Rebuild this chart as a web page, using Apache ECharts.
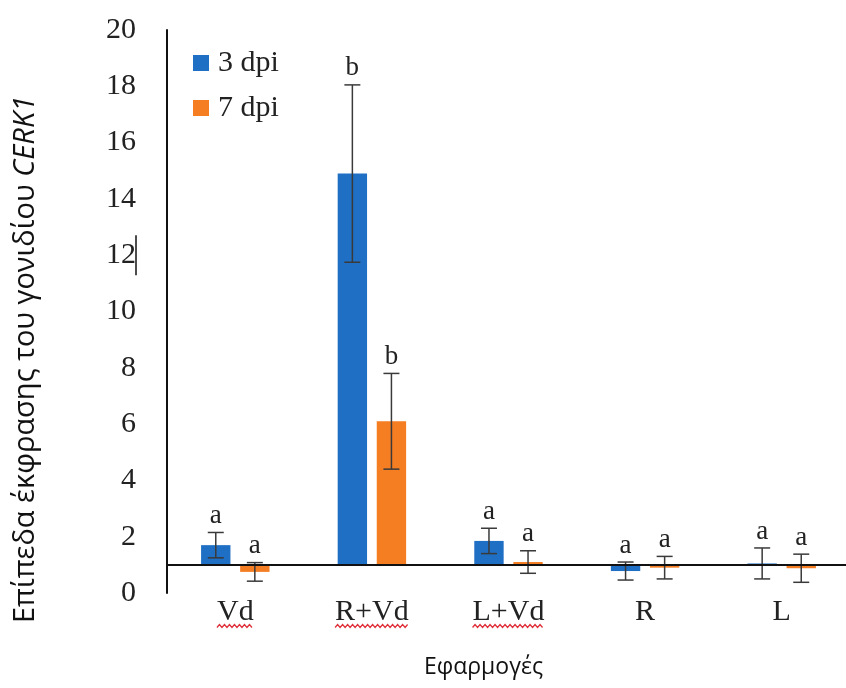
<!DOCTYPE html>
<html>
<head>
<meta charset="utf-8">
<script src="https://cdn.jsdelivr.net/npm/echarts@6/dist/echarts.min.js"></script>
<style>
  html, body { margin: 0; padding: 0; background: #fff; }
  #chart { width: 846px; height: 688px; }
</style>
</head>
<body>
<div id="chart"></div>
<script>
// categories and values (relative expression, baseline 1)
var categories = ['Vd', 'R+Vd', 'L+Vd', 'R', 'L'];
var dpi3 = [1.7, 14.9, 1.85, 0.78, 1.05];
var err3 = [0.45, 3.15, 0.45, 0.32, 0.55];
var dpi7 = [0.75, 6.1, 1.1, 0.9, 0.88];
var err7 = [0.33, 1.7, 0.4, 0.4, 0.5];
var letters3 = ['a', 'b', 'a', 'a', 'a'];
var letters7 = ['a', 'b', 'a', 'a', 'a'];
// labels underlined by the spell checker in the original
var squiggled = ['Vd', 'R+Vd', 'L+Vd'];

var BASE = 1; // horizontal axis crosses at 1
var serif = '"Liberation Serif", "DejaVu Serif", serif';
var sans = '"Open Sans", "Noto Sans", sans-serif';
var catFont = 30;

function makeRender(offsetFrac, letters) {
    return function (params, api) {
        var i = api.value(0);
        var v = api.value(1);
        var e = api.value(2);
        var band = api.size([1, 0])[0];
        var off = offsetFrac * band;
        var barW = 0.215 * band;
        var base = api.coord([i, BASE]);
        var top = api.coord([i, v]);
        var hi = api.coord([i, v + e]);
        var lo = api.coord([i, v - e]);
        var cx = base[0] + off;
        var capW = 16;
        var y0 = Math.min(base[1], top[1]);
        var h = Math.max(Math.abs(base[1] - top[1]), 1);
        return {
            type: 'group',
            children: [
                {
                    type: 'rect',
                    shape: { x: cx - barW / 2, y: y0, width: barW, height: h },
                    style: { fill: api.visual('color') }
                },
                {
                    type: 'line',
                    shape: { x1: cx, y1: hi[1], x2: cx, y2: lo[1] },
                    style: { stroke: '#3a3a3a', lineWidth: 1.5 }
                },
                {
                    type: 'line',
                    shape: { x1: cx - capW / 2, y1: hi[1], x2: cx + capW / 2, y2: hi[1] },
                    style: { stroke: '#3a3a3a', lineWidth: 1.5 }
                },
                {
                    type: 'line',
                    shape: { x1: cx - capW / 2, y1: lo[1], x2: cx + capW / 2, y2: lo[1] },
                    style: { stroke: '#3a3a3a', lineWidth: 1.5 }
                },
                {
                    type: 'text',
                    style: {
                        x: cx, y: hi[1] - 3,
                        text: letters[params.dataIndex],
                        fill: '#222',
                        font: '27px ' + serif,
                        align: 'center',
                        verticalAlign: 'bottom'
                    }
                }
            ]
        };
    };
}

function pack(vals, errs) {
    var out = [];
    for (var i = 0; i < vals.length; i++) {
        out.push([i, vals[i], errs[i]]);
    }
    return out;
}

var chart = echarts.init(document.getElementById('chart'));
chart.setOption({
    animation: false,
    backgroundColor: '#fff',
    grid: { left: 167, right: -4, top: 30, bottom: 95, containLabel: false, outerBoundsMode: 'none' },
    legend: {
        orient: 'vertical',
        left: 188,
        top: 43,
        itemGap: 15,
        itemWidth: 16,
        itemHeight: 16,
        icon: 'rect',
        textStyle: { fontFamily: serif, fontSize: 30, color: '#222', padding: [0, 0, 0, 4] },
        data: ['3 dpi', '7 dpi']
    },
    xAxis: {
        type: 'category',
        data: categories,
        axisLine: { show: false },
        axisTick: { show: false },
        axisLabel: { fontFamily: serif, fontSize: catFont, color: '#222', margin: 4 },
        name: 'Εφαρμογές',
        nameLocation: 'middle',
        nameGap: 63,
        nameTextStyle: { fontFamily: sans, fontSize: 23, color: '#111', padding: [0, 50, 0, 0] }
    },
    yAxis: {
        type: 'value',
        min: 0,
        max: 20,
        interval: 2,
        splitLine: { show: false },
        axisTick: { show: false },
        axisLine: { show: true, lineStyle: { color: '#111', width: 2 } },
        axisLabel: { fontFamily: serif, fontSize: 30, color: '#222', margin: 31 },
        name: '{n|Επίπεδα έκφρασης του γονιδίου }{i|CERK1}',
        nameLocation: 'middle',
        nameGap: 127,
        nameRotate: 90,
        nameTextStyle: {
            padding: [0, 96, 0, 0],
            rich: {
                n: { fontFamily: sans, fontSize: 29, color: '#111' },
                i: { fontFamily: sans, fontSize: 29, color: '#111', fontStyle: 'italic' }
            }
        }
    },
    series: [
        {
            name: '3 dpi',
            type: 'custom',
            itemStyle: { color: '#1f6fc4' },
            renderItem: makeRender(-0.143, letters3),
            encode: { x: 0, y: 1 },
            data: pack(dpi3, err3),
            markLine: {
                silent: true,
                symbol: 'none',
                label: { show: false },
                lineStyle: { color: '#111', type: 'solid', width: 2 },
                data: [{ yAxis: BASE }]
            },
            z: 2
        },
        {
            name: '7 dpi',
            type: 'custom',
            itemStyle: { color: '#f57d22' },
            renderItem: makeRender(0.143, letters7),
            encode: { x: 0, y: 1 },
            data: pack(dpi7, err7),
            z: 2
        }
    ]
});

// red wavy spell-check underlines below some category labels
var ctx = document.createElement('canvas').getContext('2d');
ctx.font = catFont + 'px ' + serif;
var y0px = chart.convertToPixel({ yAxisIndex: 0 }, 0);
var axisX = chart.convertToPixel({ xAxisIndex: 0 }, categories[0]) - chart.getModel().getComponent('xAxis').axis.getBandWidth() / 2;
var extras = [];
squiggled.forEach(function (name) {
    var cx = chart.convertToPixel({ xAxisIndex: 0 }, name);
    var w = ctx.measureText(name).width;
    var pts = [];
    var yb = y0px + 33;
    for (var k = 0, x = cx - w / 2; x <= cx + w / 2; k++, x += 2.5) {
        pts.push([x, yb + (k % 2 ? -1.5 : 1.5)]);
    }
    extras.push({
        type: 'polyline',
        shape: { points: pts },
        style: { stroke: '#e0303a', lineWidth: 1.3, fill: null },
        silent: true
    });
});
// stray text cursor next to the "12" label in the original
var y12 = chart.convertToPixel({ yAxisIndex: 0 }, 12);
extras.push({
    type: 'line',
    shape: { x1: axisX - 31, y1: y12 - 20, x2: axisX - 31, y2: y12 + 20 },
    style: { stroke: '#111', lineWidth: 1.5 },
    silent: true
});
chart.setOption({ graphic: extras });
</script>
</body>
</html>
